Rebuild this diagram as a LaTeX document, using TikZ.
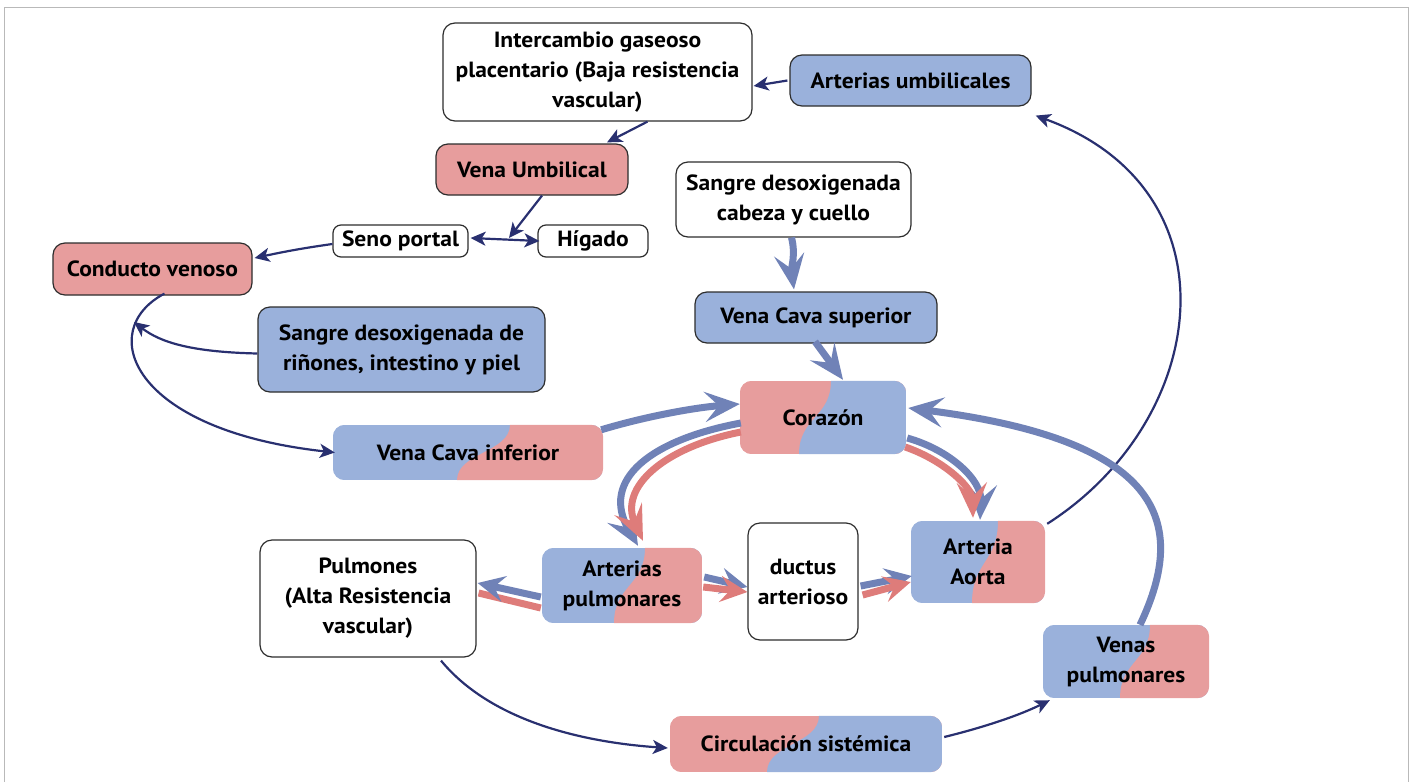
\documentclass[tikz,border=0pt]{standalone}
\usepackage{fontspec}
\setmainfont{PT Sans}[FakeStretch=1.07]
\usetikzlibrary{arrows.meta,calc,backgrounds}

\definecolor{pinkfill}{RGB}{231,157,157}
\definecolor{bluefill}{RGB}{154,177,219}
\definecolor{bluearrow}{RGB}{112,130,183}
\definecolor{pinkarrow}{RGB}{222,124,122}
\definecolor{navy}{RGB}{41,48,112}
\definecolor{framegray}{RGB}{185,185,185}
\definecolor{edgegray}{RGB}{45,45,45}

% two-colour box: left colour, right colour, wavy boundary from x at top to x at bottom
\newcommand\twotone[5]{%
  \begin{scope}
    \clip[rounded corners=12pt] (#1.south west) rectangle (#1.north east);
    \fill[#2] (#1.south west) rectangle (#1.north east);
    \coordinate (tt) at (#1.north -| #4,0);
    \coordinate (bb) at (#1.south -| #5,0);
    \fill[#3] (tt) .. controls ($(tt)!0.5!(tt |- bb)$) and ($(bb)!0.5!(bb |- tt)$) .. (bb)
      -- (#1.south east) -- (#1.north east) -- cycle;
  \end{scope}}

\tikzset{
  label text/.style={align=center, inner sep=0pt, font=\fontsize{22}{30}\selectfont\bfseries},
  box/.style={label text, draw=edgegray, line width=1.2pt, rounded corners=12pt},
  smallbox/.style={label text, draw=edgegray, line width=1.2pt, rounded corners=8pt},
  tonebox/.style={label text, rounded corners=12pt},
  thinarrow/.style={navy, line width=2.2pt, -{Stealth[length=15pt,width=14pt,inset=4pt]}},
  bigblue/.style={bluearrow, line width=7pt, -{Stealth[length=35pt,width=30pt,inset=14pt]}},
  bigpink/.style={pinkarrow, line width=7pt, -{Stealth[length=35pt,width=30pt,inset=14pt]}},
  midblue/.style={bluearrow, line width=7pt, -{Stealth[length=27pt,width=26pt,inset=10pt]}},
  midpink/.style={pinkarrow, line width=7pt, -{Stealth[length=27pt,width=26pt,inset=10pt]}},
}

\begin{document}
\begin{tikzpicture}[x=1pt,y=-1pt]
\useasboundingbox (0,0) rectangle (1416,782);
\draw[framegray, line width=1.5pt] (4.5,782) -- (4.5,7.5) -- (1408.5,7.5) -- (1408.5,782);

% boxes with an outline
\node[box, fill=white, minimum width=309pt, minimum height=98pt] (inter) at (597.5,72)
  {Intercambio gaseoso\\placentario (Baja resistencia\\vascular)};
\node[box, fill=bluefill, minimum width=241pt, minimum height=51pt] (artumb) at (910.5,80.5)
  {Arterias umbilicales};
\node[box, fill=pinkfill, minimum width=192pt, minimum height=51pt] (venaumb) at (532,169.5)
  {Vena Umbilical};
\node[smallbox, fill=white, minimum width=135pt, minimum height=32pt] (seno) at (400.5,241)
  {Seno portal};
\node[smallbox, fill=white, minimum width=110pt, minimum height=32pt] (higado) at (593,241)
  {Hígado};
\node[box, fill=pinkfill, minimum width=199pt, minimum height=52pt] (conducto) at (152.5,269)
  {Conducto venoso};
\node[box, fill=white, minimum width=235pt, minimum height=75pt] (cabeza) at (793.5,199.5)
  {Sangre desoxigenada\\cabeza y cuello};
\node[box, fill=bluefill, minimum width=242pt, minimum height=51pt] (vcs) at (816,317.5)
  {Vena Cava superior};
\node[box, fill=bluefill, minimum width=287pt, minimum height=85pt] (rinones) at (401.5,349.5)
  {Sangre desoxigenada de\\riñones, intestino y piel};
\node[box, fill=white, minimum width=216pt, minimum height=117pt] (pulmones) at (368,598.5)
  {Pulmones\\(Alta Resistencia\\vascular)};
\node[box, fill=white, minimum width=110pt, minimum height=117pt] (ductus) at (803,581.5)
  {ductus\\arterioso};

% two-colour boxes
\node[tonebox, minimum width=166pt, minimum height=73pt] (corazon) at (823,417.5) {Corazón};
\node[tonebox, minimum width=270pt, minimum height=55pt] (vci) at (468,452.5) {Vena Cava inferior};
\node[tonebox, minimum width=160pt, minimum height=75pt] (artpulm) at (622,585.5) {Arterias\\pulmonares};
\node[tonebox, minimum width=134pt, minimum height=82pt] (aorta) at (978,562) {Arteria\\Aorta};
\node[tonebox, minimum width=166pt, minimum height=73pt] (venas) at (1126,661.5) {Venas\\pulmonares};
\node[tonebox, minimum width=272pt, minimum height=56pt] (circ) at (806,744) {Circulación sistémica};

\begin{scope}[on background layer]
  \twotone{corazon}{pinkfill}{bluefill}{831}{799}
  \twotone{vci}{bluefill}{pinkfill}{510}{457}
  \twotone{artpulm}{bluefill}{pinkfill}{645}{614}
  \twotone{aorta}{bluefill}{pinkfill}{998}{972}
  \twotone{venas}{bluefill}{pinkfill}{1150}{1120}
  \twotone{circ}{pinkfill}{bluefill}{819}{767}
\end{scope}

% points where a connector meets another connector
\coordinate (portaljoin) at (509,238);
\coordinate (venosojoin) at (134,322);

% thin connectors
\draw[thinarrow] ([xshift=50pt]inter.south) -- ([xshift=75pt,yshift=1pt]venaumb.north);
\draw[thinarrow] ([xshift=-2pt]artumb.west) -- ([xshift=1pt,yshift=-14pt]inter.east);
\draw[thinarrow] ([xshift=10pt]venaumb.south) -- (portaljoin);
\draw[navy, line width=2.2pt, {Stealth[length=15pt,width=14pt,inset=4pt]}-{Stealth[length=15pt,width=14pt,inset=4pt]}]
  ([xshift=2pt,yshift=3pt]seno.east) -- ([xshift=2pt]higado.west);
\draw[thinarrow] ([yshift=-3pt]seno.west) to[out=188,in=12] ([xshift=2pt,yshift=11pt]conducto.east);
\draw[thinarrow] ([xshift=12pt,yshift=2pt]conducto.south) .. controls (95,330) and (130,430) .. ([xshift=2pt]vci.west);
\draw[thinarrow] ([yshift=-4pt]rinones.west) .. controls (190,352) and (160,342) .. (venosojoin);
\draw[thinarrow] ([xshift=2pt,yshift=-3pt]aorta.north east) .. controls (1210,420) and (1240,190) .. ([xshift=4pt,yshift=-9pt]artumb.south east);
\draw[thinarrow] ([xshift=73pt,yshift=-3pt]pulmones.south) .. controls (490,720) and (580,742) .. ([xshift=-2pt,yshift=-4pt]circ.west);
\draw[thinarrow] ([xshift=2pt,yshift=7pt]circ.east) .. controls (985,727) and (1020,715) .. ([xshift=7pt,yshift=-2pt]venas.south west);

% thick blood-flow arrows
\draw[bigblue] ([xshift=-2pt]cabeza.south) .. controls (796,255) and (791,268) .. ([xshift=-22pt,yshift=2pt]vcs.north);
\draw[bigblue] ([xshift=-1pt,yshift=2pt]vcs.south) -- ([xshift=20pt,yshift=1pt]corazon.north);
\draw[bigblue] ([xshift=-2pt,yshift=-5pt]vci.north east) .. controls (640,418) and (690,408) .. ([yshift=13.5pt]corazon.west);
\draw[bigblue] ([xshift=14pt]venas.north) .. controls (1190,520) and (1160,440) .. ([xshift=2pt,yshift=9.5pt]corazon.east);

\draw[bigblue] ([xshift=1pt,yshift=-5.5pt]corazon.west) .. controls (650,440) and (600,480) .. ([xshift=16pt,yshift=2pt]artpulm.north);
\draw[bigpink] ([xshift=1pt,yshift=-14.5pt]corazon.west) .. controls (665,447) and (618,487) .. ([xshift=21pt,yshift=7pt]artpulm.north);

\draw[bigblue] ([xshift=1pt,yshift=-20.5pt]corazon.east) .. controls (950,450) and (982,480) .. ([xshift=2pt,yshift=1pt]aorta.north);
\draw[bigpink] ([xshift=-1pt,yshift=-29.5pt]corazon.east) .. controls (943,460) and (972,487) .. ([xshift=-5pt,yshift=3pt]aorta.north);

\draw[pinkarrow, line width=7pt] ([xshift=-1pt,yshift=-22.5pt]artpulm.west) -- ([xshift=2pt,yshift=5.5pt]pulmones.east);
\draw[midblue] ([xshift=-1pt,yshift=-11.5pt]artpulm.west) -- ([xshift=1pt,yshift=15.5pt]pulmones.east);

\draw[midblue] ([xshift=2pt,yshift=8.5pt]artpulm.east) -- ([yshift=-5.5pt]ductus.west);
\draw[midpink] ([xshift=1pt,yshift=-1.5pt]artpulm.east) -- ([yshift=-10.5pt]ductus.west);

\draw[midblue] ([xshift=2pt,yshift=-4.5pt]ductus.east) -- ([xshift=1pt,yshift=-14pt]aorta.west);
\draw[midpink] ([xshift=4pt,yshift=-13.5pt]ductus.east) -- ([yshift=-20pt]aorta.west);
\end{tikzpicture}
\end{document}
